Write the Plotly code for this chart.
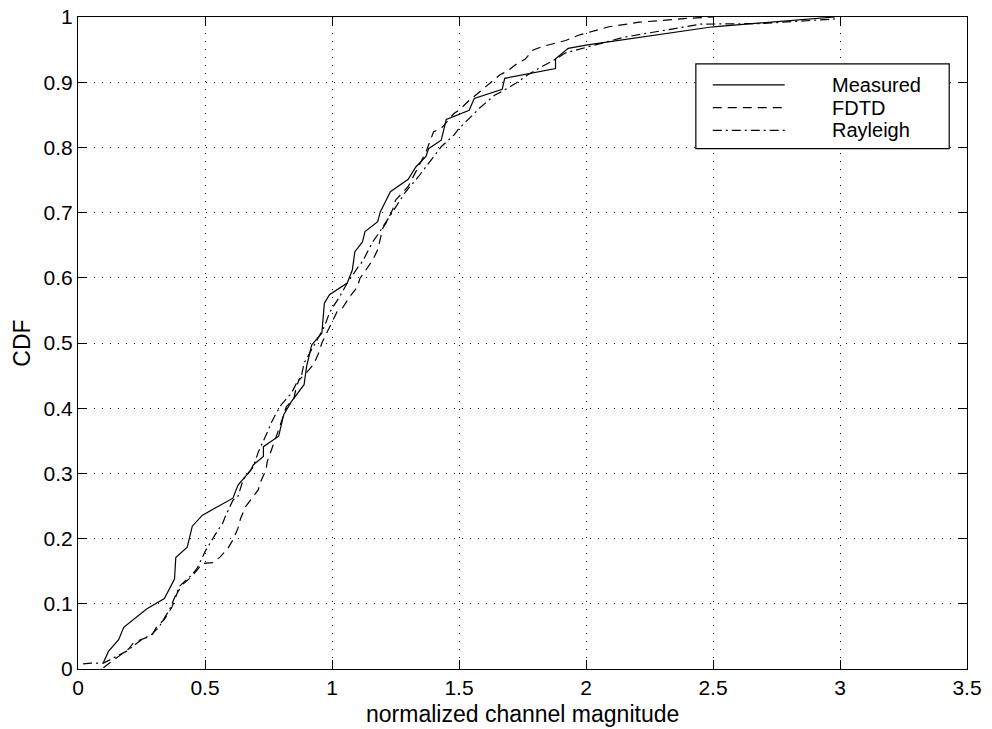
import plotly.graph_objects as go

# ---- data ----
measured_x = [0.10, 0.12, 0.16, 0.18, 0.27, 0.34, 0.38, 0.385, 0.43, 0.45, 0.49, 0.61, 0.63, 0.68, 0.69,
              0.73, 0.73, 0.79, 0.81, 0.84, 0.89, 0.90, 0.92, 0.96, 0.97, 0.99, 1.06, 1.08, 1.09, 1.12,
              1.13, 1.18, 1.19, 1.23, 1.30, 1.33, 1.37, 1.38, 1.43, 1.44, 1.45, 1.54, 1.56, 1.67, 1.68,
              1.88, 1.88, 1.93, 2.00, 2.50, 2.98]
measured_y = [0.010, 0.027, 0.045, 0.064, 0.092, 0.108, 0.138, 0.171, 0.187, 0.219, 0.236, 0.262, 0.282,
              0.305, 0.313, 0.326, 0.341, 0.357, 0.390, 0.410, 0.436, 0.464, 0.497, 0.515, 0.561, 0.574,
              0.592, 0.612, 0.640, 0.655, 0.671, 0.686, 0.701, 0.732, 0.751, 0.770, 0.786, 0.798, 0.811,
              0.827, 0.843, 0.857, 0.875, 0.889, 0.906, 0.921, 0.936, 0.952, 0.957, 0.985, 1.000]

fdtd_x = [0.10, 0.16, 0.20, 0.22, 0.29, 0.31, 0.34, 0.37, 0.39, 0.41, 0.44, 0.47, 0.49, 0.53, 0.56,
          0.59, 0.61, 0.63, 0.64, 0.66, 0.68, 0.71, 0.72, 0.74, 0.745, 0.78, 0.79, 0.82, 0.85, 0.86,
          0.87, 0.91, 0.93, 0.95, 0.96, 1.02, 1.04, 1.07, 1.10, 1.11, 1.14, 1.16, 1.18, 1.19, 1.20,
          1.22, 1.24, 1.25, 1.30, 1.37, 1.38, 1.40, 1.43, 1.48, 1.50, 1.54, 1.59, 1.62, 1.66, 1.69,
          1.73, 1.76, 1.79, 1.83, 1.88, 1.92, 1.97, 2.09, 2.21, 2.40, 2.50]
fdtd_y = [0.002, 0.019, 0.031, 0.041, 0.051, 0.065, 0.076, 0.095, 0.116, 0.129, 0.139, 0.152, 0.162,
          0.163, 0.172, 0.185, 0.198, 0.216, 0.231, 0.249, 0.259, 0.275, 0.288, 0.305, 0.318, 0.354,
          0.367, 0.402, 0.415, 0.433, 0.443, 0.459, 0.469, 0.487, 0.500, 0.548, 0.553, 0.571, 0.586,
          0.599, 0.615, 0.627, 0.643, 0.658, 0.676, 0.689, 0.706, 0.719, 0.740, 0.793, 0.803, 0.824,
          0.829, 0.852, 0.857, 0.872, 0.888, 0.898, 0.911, 0.917, 0.929, 0.935, 0.949, 0.955, 0.960,
          0.964, 0.972, 0.985, 0.992, 0.998, 1.000]

rayleigh_x = [0.02, 0.05, 0.10, 0.19, 0.25, 0.29, 0.32, 0.36, 0.40, 0.45, 0.47, 0.50, 0.54, 0.57,
              0.58, 0.61, 0.63, 0.65, 0.69, 0.71, 0.75, 0.76, 0.78, 0.80, 0.84, 0.86, 0.88, 0.89, 0.92,
              0.97, 0.99, 1.00, 1.03, 1.06, 1.10, 1.12, 1.14, 1.16, 1.18, 1.20, 1.22, 1.27, 1.29, 1.34,
              1.36, 1.41, 1.43, 1.48, 1.50, 1.56, 1.58, 1.64, 1.67, 1.73, 1.77, 1.83, 1.87, 1.92, 1.96,
              2.15, 2.45, 2.69, 2.98]
rayleigh_y = [0.008, 0.009, 0.009, 0.027, 0.045, 0.053, 0.065, 0.091, 0.127, 0.145, 0.155, 0.180,
              0.206, 0.224, 0.234, 0.259, 0.265, 0.290, 0.310, 0.333, 0.367, 0.377, 0.392, 0.405, 0.423,
              0.438, 0.450, 0.469, 0.490, 0.525, 0.546, 0.553, 0.571, 0.592, 0.615, 0.625, 0.640, 0.655,
              0.666, 0.678, 0.691, 0.722, 0.732, 0.755, 0.765, 0.791, 0.801, 0.819, 0.829, 0.852, 0.860,
              0.880, 0.886, 0.900, 0.911, 0.925, 0.933, 0.945, 0.949, 0.969, 0.989, 0.990, 0.997]

series_names = ["Measured", "FDTD", "Rayleigh"]
series_dashes = ["solid", "9px,6px", "9px,4px,2px,4px"]

x_ticks = [0, 0.5, 1, 1.5, 2, 2.5, 3, 3.5]
x_tick_labels = ["0", "0.5", "1", "1.5", "2", "2.5", "3", "3.5"]
y_ticks = [0, 0.1, 0.2, 0.3, 0.4, 0.5, 0.6, 0.7, 0.8, 0.9, 1]
y_tick_labels = ["0", "0.1", "0.2", "0.3", "0.4", "0.5", "0.6", "0.7", "0.8", "0.9", "1"]
x_title = "normalized channel magnitude"
y_title = "CDF"

FONT = "Liberation Sans, Arial, Helvetica, sans-serif"
LW = 1.2

fig = go.Figure()
for xs, ys, name, dash in zip([measured_x, fdtd_x, rayleigh_x], [measured_y, fdtd_y, rayleigh_y],
                              series_names, series_dashes):
    fig.add_trace(go.Scatter(x=xs, y=ys, mode="lines", name=name, showlegend=False,
                             line=dict(color="black", width=LW, dash=dash)))

axis_common = dict(
    showline=True, linecolor="black", linewidth=1.2, mirror="ticks",
    ticks="inside", ticklen=9, tickwidth=1, tickcolor="black",
    showgrid=True, gridcolor="black", gridwidth=1, griddash="1px,7px",
    zeroline=False, automargin=False,
    tickfont=dict(family=FONT, size=21, color="black"),
)

fig.update_xaxes(range=[0, 3.5], tickvals=x_ticks, ticktext=x_tick_labels, **axis_common)
fig.update_yaxes(range=[0, 1], tickvals=y_ticks, ticktext=y_tick_labels,
                 title=dict(text=y_title, font=dict(family=FONT, size=23, color="black"), standoff=6),
                 **axis_common)

# ---- legend box drawn in paper coordinates (MATLAB style) ----
box_x0, box_x1, box_y0, box_y1 = 0.695, 0.980, 0.798, 0.928
sample_x0, sample_x1, text_x = 0.714, 0.795, 0.846
row_y = [0.896, 0.861, 0.826]
shapes = [dict(type="rect", xref="paper", yref="paper", x0=box_x0, x1=box_x1, y0=box_y0, y1=box_y1,
               line=dict(color="black", width=1.2), fillcolor="white", layer="above")]
annotations = [dict(text=x_title, xref="paper", yref="paper", x=0.5, y=0, yshift=-60,
                    xanchor="center", yanchor="bottom", showarrow=False,
                    font=dict(family=FONT, size=23, color="black"))]
for name, dash, yy in zip(series_names, series_dashes, row_y):
    shapes.append(dict(type="line", xref="paper", yref="paper", x0=sample_x0, x1=sample_x1, y0=yy, y1=yy,
                       line=dict(color="black", width=LW, dash=dash), layer="above"))
    annotations.append(dict(text=name, xref="paper", yref="paper", x=text_x, y=yy, xanchor="left",
                            yanchor="middle", showarrow=False,
                            font=dict(family=FONT, size=20, color="black")))

fig.update_layout(
    width=992, height=729,
    margin=dict(l=78, r=25, t=17, b=60),
    paper_bgcolor="white", plot_bgcolor="white",
    font=dict(family=FONT, color="black"),
    showlegend=False,
    shapes=shapes, annotations=annotations,
)

fig.write_html("out.html")
